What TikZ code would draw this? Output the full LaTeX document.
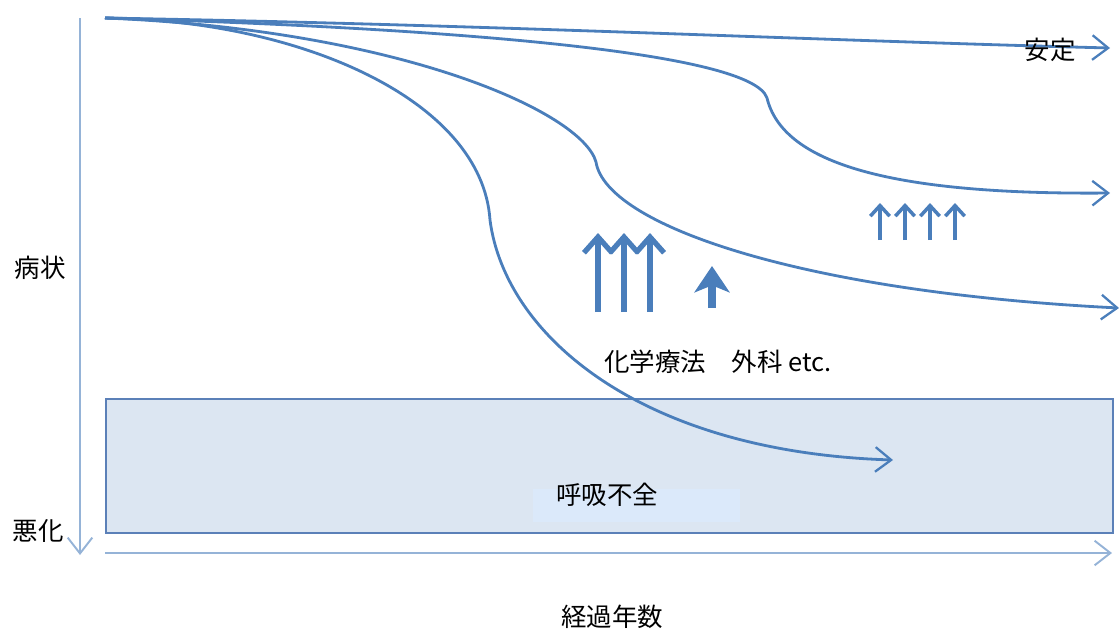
\documentclass[tikz,border=0pt]{standalone}
\usepackage{fontspec}
\newfontfamily\jp{Noto Sans CJK JP}
\usetikzlibrary{arrows.meta}
\definecolor{curve}{HTML}{4A7EBB}
\definecolor{axis}{HTML}{95B3D7}
\definecolor{boxfill}{HTML}{DCE6F2}
\definecolor{boxline}{HTML}{5B80B8}
\definecolor{labfill}{HTML}{DBE9FA}
\tikzset{
  lab/.style={font=\jp\fontsize{14.5}{17}\selectfont, inner sep=0pt},
  crv/.style={draw=curve, line width=1.6pt, -{Straight Barb[length=9pt,width=14pt,line width=1.3pt]}},
  ax/.style={draw=axis, line width=1.2pt, -{Straight Barb[length=9pt,width=14pt,line width=1.1pt]}},
  bigup/.style={draw=curve, line width=3.2pt, -{Straight Barb[length=9pt,width=16pt,line width=3pt]}},
  smallup/.style={draw=curve, line width=2pt, -{Straight Barb[length=6pt,width=11pt,line width=2pt]}},
  stubup/.style={draw=curve, line width=4pt, -{Stealth[length=15pt,width=20pt,inset=4pt]}}
}
\begin{document}
\begin{tikzpicture}[x=0.02cm,y=-0.02cm]
\useasboundingbox (0,0) rectangle (1119,630);
% box
\node[draw=boxline, fill=boxfill, line width=1.1pt, minimum width=1007*0.02cm, minimum height=134*0.02cm, anchor=north west, inner sep=0pt] (box) at (105,398) {};
\node[fill=labfill, minimum width=207*0.02cm, minimum height=33*0.02cm, anchor=north west, inner sep=0pt] (labbg) at (533,489) {};
\node[lab] (resp) at (607,495) {呼吸不全};
% axes
\coordinate (vtop) at (80,18);
\coordinate (vbot) at (80,555);
\draw[ax] (vtop) -- (vbot);
\coordinate (hl) at (105,553);
\coordinate (hr) at (1112,553);
\draw[ax] (hl) -- (hr);
% labels
\node[lab] (sym) at (40,268) {病状};
\node[lab] (worse) at (38,531) {悪化};
\node[lab] (years) at (612,617) {経過年数};
\node[lab] (treat) at (718,362) {化学療法　外科 etc.};
% curves
\coordinate (s) at (105,18);
\coordinate (e1) at (1110,48);
\coordinate (b2) at (767,98);
\coordinate (e2) at (1110,193);
\coordinate (b3) at (596,162);
\coordinate (e3) at (1119,308);
\coordinate (b4) at (490,220);
\coordinate (e4) at (893,460);
\draw[crv] (s) .. controls (500,25) and (800,40) .. (e1);
\draw[crv] (s) .. controls (450,28) and (752,52) .. (b2) .. controls (782,160) and (880,195) .. (e2);
\draw[crv] (s) .. controls (400,30) and (582,112) .. (b3) .. controls (606,225) and (800,292) .. (e3);
\draw[crv] (s) .. controls (300,20) and (482,100) .. (b4) .. controls (505,335) and (640,452) .. (e4);
\node[lab] (stable) at (1050,50) {安定};
% treatment arrows
\foreach \x/\n in {598/a,624/b,650/c}{
  \coordinate (t\n) at (\x,312);
  \coordinate (h\n) at (\x,233);
  \draw[bigup] (t\n) -- (h\n);
}
\coordinate (sb) at (712,308);
\coordinate (sh) at (712,266);
\draw[stubup] (sb) -- (sh);
\foreach \x/\n in {880/a,905/b,930/c,955/d}{
  \coordinate (u\n) at (\x,240);
  \coordinate (v\n) at (\x,203);
  \draw[smallup] (u\n) -- (v\n);
}
\end{tikzpicture}
\end{document}
